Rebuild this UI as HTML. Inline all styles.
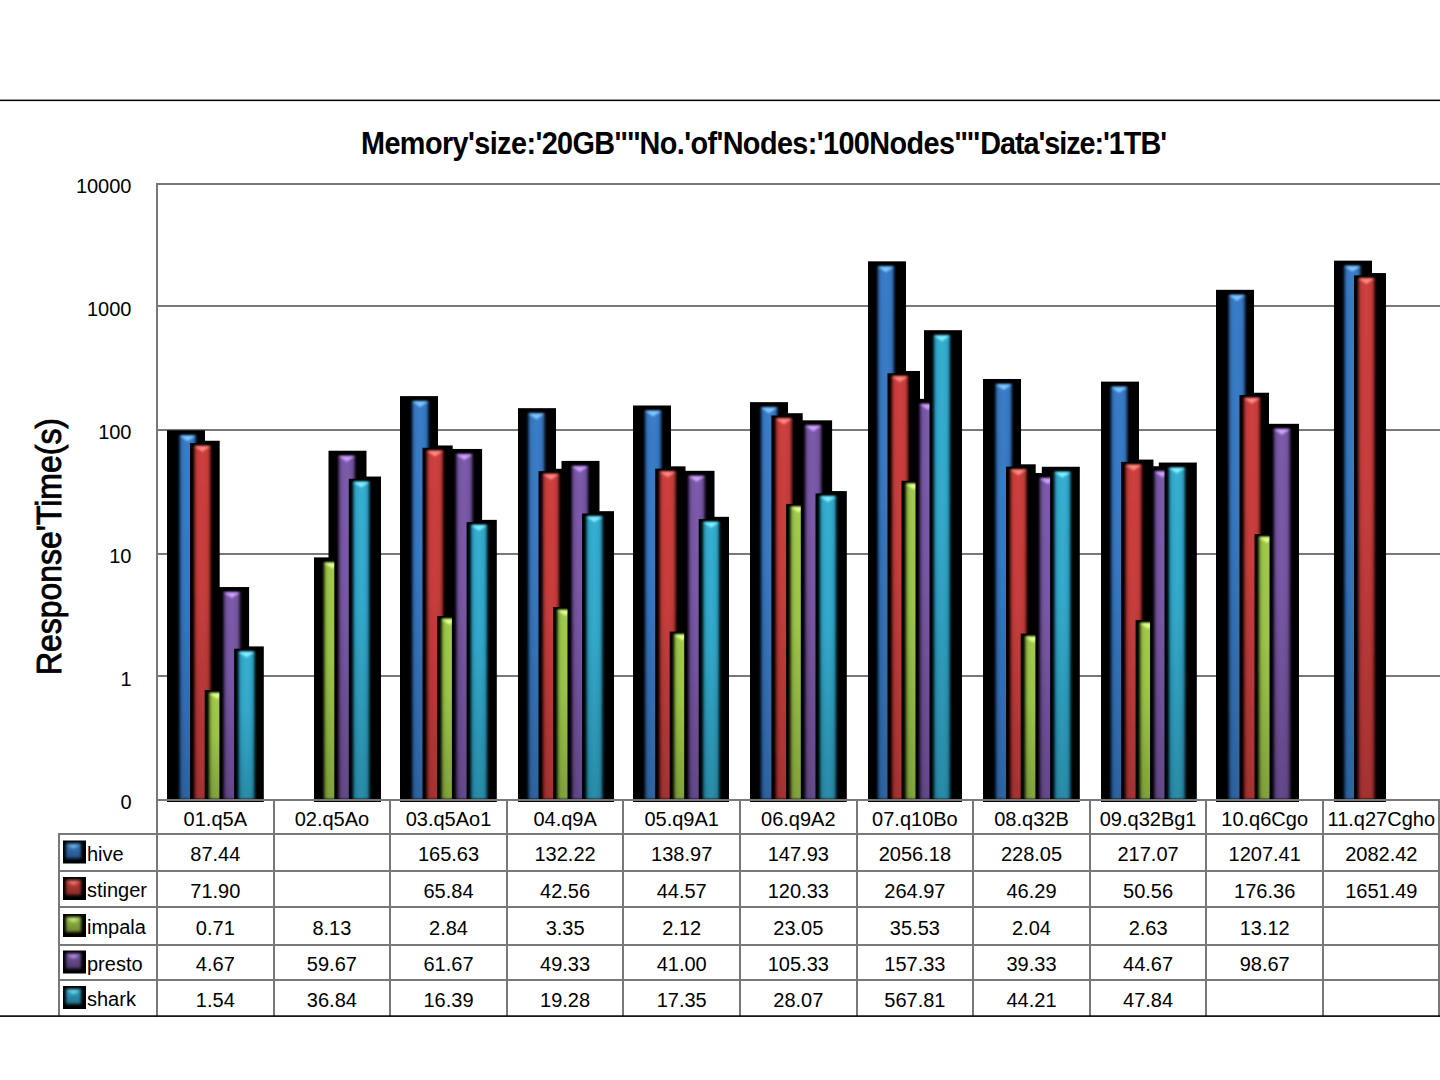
<!DOCTYPE html><html><head><meta charset="utf-8"><style>html,body{margin:0;padding:0;background:#fff;width:1440px;height:1080px;overflow:hidden;position:relative}</style></head><body><svg width="1440" height="1080" viewBox="0 0 1440 1080" style="position:absolute;left:0;top:0">
<defs>
<filter id="soft" x="-30%" y="-5%" width="160%" height="110%"><feGaussianBlur stdDeviation="1.1"/></filter>
<filter id="hl2" x="-30%" y="-50%" width="160%" height="200%"><feGaussianBlur stdDeviation="0.8"/></filter>
<filter id="mkb" x="-50%" y="-50%" width="200%" height="200%"><feGaussianBlur stdDeviation="1.5"/></filter>
<filter id="hl" x="-30%" y="-50%" width="160%" height="200%"><feGaussianBlur stdDeviation="1.2"/></filter>
<linearGradient id="g_hive" x1="0" x2="1" y1="0" y2="0"><stop offset="0" stop-color="#0a1a30"/><stop offset="0.18" stop-color="#3676c0"/><stop offset="0.5" stop-color="#3a7ec8"/><stop offset="0.82" stop-color="#3676c0"/><stop offset="1" stop-color="#0a1a30"/></linearGradient>
<linearGradient id="mk_hive" x1="0" x2="0" y1="0" y2="1"><stop offset="0" stop-color="#3676c0"/><stop offset="1" stop-color="#255286"/></linearGradient>
<radialGradient id="m_hive" cx="0.5" cy="0.35" r="0.6"><stop offset="0" stop-color="#80c8ff"/><stop offset="0.45" stop-color="#3676c0"/><stop offset="1" stop-color="#0a1a30"/></radialGradient>
<linearGradient id="g_stinger" x1="0" x2="1" y1="0" y2="0"><stop offset="0" stop-color="#300a08"/><stop offset="0.18" stop-color="#c43c3a"/><stop offset="0.5" stop-color="#d04040"/><stop offset="0.82" stop-color="#c43c3a"/><stop offset="1" stop-color="#300a08"/></linearGradient>
<linearGradient id="mk_stinger" x1="0" x2="0" y1="0" y2="1"><stop offset="0" stop-color="#c43c3a"/><stop offset="1" stop-color="#892a28"/></linearGradient>
<radialGradient id="m_stinger" cx="0.5" cy="0.35" r="0.6"><stop offset="0" stop-color="#ff8a80"/><stop offset="0.45" stop-color="#c43c3a"/><stop offset="1" stop-color="#300a08"/></radialGradient>
<linearGradient id="g_impala" x1="0" x2="1" y1="0" y2="0"><stop offset="0" stop-color="#1c2608"/><stop offset="0.18" stop-color="#98c046"/><stop offset="0.5" stop-color="#a2cc4c"/><stop offset="0.82" stop-color="#98c046"/><stop offset="1" stop-color="#1c2608"/></linearGradient>
<linearGradient id="mk_impala" x1="0" x2="0" y1="0" y2="1"><stop offset="0" stop-color="#98c046"/><stop offset="1" stop-color="#6a8631"/></linearGradient>
<radialGradient id="m_impala" cx="0.5" cy="0.35" r="0.6"><stop offset="0" stop-color="#e0ff90"/><stop offset="0.45" stop-color="#98c046"/><stop offset="1" stop-color="#1c2608"/></radialGradient>
<linearGradient id="g_presto" x1="0" x2="1" y1="0" y2="0"><stop offset="0" stop-color="#1a1028"/><stop offset="0.18" stop-color="#74549e"/><stop offset="0.5" stop-color="#7e5cae"/><stop offset="0.82" stop-color="#74549e"/><stop offset="1" stop-color="#1a1028"/></linearGradient>
<linearGradient id="mk_presto" x1="0" x2="0" y1="0" y2="1"><stop offset="0" stop-color="#74549e"/><stop offset="1" stop-color="#513a6e"/></linearGradient>
<radialGradient id="m_presto" cx="0.5" cy="0.35" r="0.6"><stop offset="0" stop-color="#d0a0ff"/><stop offset="0.45" stop-color="#74549e"/><stop offset="1" stop-color="#1a1028"/></radialGradient>
<linearGradient id="g_shark" x1="0" x2="1" y1="0" y2="0"><stop offset="0" stop-color="#06242c"/><stop offset="0.18" stop-color="#30a4c8"/><stop offset="0.5" stop-color="#36b0d2"/><stop offset="0.82" stop-color="#30a4c8"/><stop offset="1" stop-color="#06242c"/></linearGradient>
<linearGradient id="mk_shark" x1="0" x2="0" y1="0" y2="1"><stop offset="0" stop-color="#30a4c8"/><stop offset="1" stop-color="#21728c"/></linearGradient>
<radialGradient id="m_shark" cx="0.5" cy="0.35" r="0.6"><stop offset="0" stop-color="#80f0ff"/><stop offset="0.45" stop-color="#30a4c8"/><stop offset="1" stop-color="#06242c"/></radialGradient>
<linearGradient id="vshade" x1="0" x2="0" y1="0" y2="1"><stop offset="0" stop-color="#000" stop-opacity="0"/><stop offset="0.4" stop-color="#000" stop-opacity="0.03"/><stop offset="1" stop-color="#000" stop-opacity="0.2"/></linearGradient>
</defs>
<rect x="0" y="0" width="1440" height="1080" fill="#fff"/>
<rect x="0" y="99.6" width="1440" height="1.5" fill="#000"/>
<rect x="157" y="183" width="1283" height="2" fill="#787878"/>
<rect x="157" y="305" width="1283" height="2" fill="#787878"/>
<rect x="157" y="429" width="1283" height="2" fill="#787878"/>
<rect x="157" y="553" width="1283" height="2" fill="#787878"/>
<rect x="157" y="675" width="1283" height="2" fill="#787878"/>
<rect x="167.00" y="430.28" width="38.00" height="371.72" fill="#000"/>
<rect x="181.70" y="440.75" width="38.00" height="361.25" fill="#000"/>
<rect x="196.40" y="687.82" width="38.00" height="114.18" fill="#000"/>
<rect x="211.10" y="587.04" width="38.00" height="214.96" fill="#000"/>
<rect x="225.80" y="646.40" width="38.00" height="155.60" fill="#000"/>
<rect x="314.00" y="557.38" width="38.00" height="244.62" fill="#000"/>
<rect x="328.50" y="450.73" width="38.00" height="351.27" fill="#000"/>
<rect x="343.00" y="476.53" width="38.00" height="325.47" fill="#000"/>
<rect x="400.00" y="396.10" width="38.00" height="405.90" fill="#000"/>
<rect x="414.70" y="445.46" width="38.00" height="356.54" fill="#000"/>
<rect x="429.40" y="613.65" width="38.00" height="188.35" fill="#000"/>
<rect x="444.10" y="448.96" width="38.00" height="353.04" fill="#000"/>
<rect x="458.80" y="519.86" width="38.00" height="282.14" fill="#000"/>
<rect x="518.00" y="408.16" width="38.00" height="393.84" fill="#000"/>
<rect x="532.50" y="468.81" width="38.00" height="333.19" fill="#000"/>
<rect x="547.00" y="604.81" width="38.00" height="197.19" fill="#000"/>
<rect x="561.50" y="460.91" width="38.00" height="341.09" fill="#000"/>
<rect x="576.00" y="511.17" width="38.00" height="290.83" fill="#000"/>
<rect x="633.00" y="405.49" width="38.00" height="396.51" fill="#000"/>
<rect x="647.50" y="466.34" width="38.00" height="335.66" fill="#000"/>
<rect x="662.00" y="629.30" width="38.00" height="172.70" fill="#000"/>
<rect x="676.50" y="470.81" width="38.00" height="331.19" fill="#000"/>
<rect x="691.00" y="516.82" width="38.00" height="285.18" fill="#000"/>
<rect x="750.00" y="402.15" width="38.00" height="399.85" fill="#000"/>
<rect x="764.70" y="413.20" width="38.00" height="388.80" fill="#000"/>
<rect x="779.40" y="501.62" width="38.00" height="300.38" fill="#000"/>
<rect x="794.10" y="420.32" width="38.00" height="381.68" fill="#000"/>
<rect x="808.80" y="491.08" width="38.00" height="310.92" fill="#000"/>
<rect x="868.00" y="261.33" width="38.00" height="540.67" fill="#000"/>
<rect x="882.00" y="370.96" width="38.00" height="431.04" fill="#000"/>
<rect x="896.00" y="478.47" width="38.00" height="323.53" fill="#000"/>
<rect x="910.00" y="398.85" width="38.00" height="403.15" fill="#000"/>
<rect x="924.00" y="330.18" width="38.00" height="471.82" fill="#000"/>
<rect x="983.00" y="378.99" width="38.00" height="423.01" fill="#000"/>
<rect x="997.70" y="464.31" width="38.00" height="337.69" fill="#000"/>
<rect x="1012.40" y="631.35" width="38.00" height="170.65" fill="#000"/>
<rect x="1027.10" y="473.03" width="38.00" height="328.97" fill="#000"/>
<rect x="1041.80" y="466.77" width="38.00" height="335.23" fill="#000"/>
<rect x="1101.00" y="381.63" width="38.00" height="420.37" fill="#000"/>
<rect x="1115.45" y="459.59" width="38.00" height="342.41" fill="#000"/>
<rect x="1129.90" y="617.76" width="38.00" height="184.24" fill="#000"/>
<rect x="1144.35" y="466.22" width="38.00" height="335.78" fill="#000"/>
<rect x="1158.80" y="462.55" width="38.00" height="339.45" fill="#000"/>
<rect x="1216.00" y="289.82" width="38.00" height="512.18" fill="#000"/>
<rect x="1231.00" y="392.74" width="38.00" height="409.26" fill="#000"/>
<rect x="1246.00" y="531.77" width="38.00" height="270.23" fill="#000"/>
<rect x="1261.00" y="423.82" width="38.00" height="378.18" fill="#000"/>
<rect x="1334.00" y="260.65" width="38.00" height="541.35" fill="#000"/>
<rect x="1348.00" y="273.06" width="38.00" height="528.94" fill="#000"/>
<rect x="175.30" y="432.58" width="25.40" height="369.42" fill="#000"/>
<g filter="url(#soft)"><rect x="178.70" y="435.28" width="18.00" height="363.72" fill="url(#g_hive)"/><rect x="178.70" y="435.28" width="18.00" height="363.72" fill="url(#vshade)"/></g>
<polygon points="179.70,435.78 195.70,435.78 187.70,441.28" fill="#80c8ff" opacity="1" filter="url(#hl2)"/>
<rect x="190.00" y="443.05" width="25.40" height="358.95" fill="#000"/>
<g filter="url(#soft)"><rect x="193.40" y="445.75" width="18.00" height="353.25" fill="url(#g_stinger)"/><rect x="193.40" y="445.75" width="18.00" height="353.25" fill="url(#vshade)"/></g>
<polygon points="194.40,446.25 210.40,446.25 202.40,451.75" fill="#ff8a80" opacity="1" filter="url(#hl2)"/>
<rect x="204.70" y="690.12" width="25.40" height="111.88" fill="#000"/>
<g filter="url(#soft)"><rect x="208.10" y="692.82" width="18.00" height="106.18" fill="url(#g_impala)"/><rect x="208.10" y="692.82" width="18.00" height="106.18" fill="url(#vshade)"/></g>
<polygon points="209.10,693.32 225.10,693.32 217.10,698.82" fill="#e0ff90" opacity="1" filter="url(#hl2)"/>
<rect x="219.40" y="589.34" width="25.40" height="212.66" fill="#000"/>
<g filter="url(#soft)"><rect x="222.80" y="592.04" width="18.00" height="206.96" fill="url(#g_presto)"/><rect x="222.80" y="592.04" width="18.00" height="206.96" fill="url(#vshade)"/></g>
<polygon points="223.80,592.54 239.80,592.54 231.80,598.04" fill="#d0a0ff" opacity="1" filter="url(#hl2)"/>
<rect x="234.10" y="648.70" width="25.40" height="153.30" fill="#000"/>
<g filter="url(#soft)"><rect x="237.50" y="651.40" width="18.00" height="147.60" fill="url(#g_shark)"/><rect x="237.50" y="651.40" width="18.00" height="147.60" fill="url(#vshade)"/></g>
<polygon points="238.50,651.90 254.50,651.90 246.50,657.40" fill="#80f0ff" opacity="1" filter="url(#hl2)"/>
<rect x="319.80" y="559.68" width="25.40" height="242.32" fill="#000"/>
<g filter="url(#soft)"><rect x="323.20" y="562.38" width="18.00" height="236.62" fill="url(#g_impala)"/><rect x="323.20" y="562.38" width="18.00" height="236.62" fill="url(#vshade)"/></g>
<polygon points="324.20,562.88 340.20,562.88 332.20,568.38" fill="#e0ff90" opacity="1" filter="url(#hl2)"/>
<rect x="334.30" y="453.03" width="25.40" height="348.97" fill="#000"/>
<g filter="url(#soft)"><rect x="337.70" y="455.73" width="18.00" height="343.27" fill="url(#g_presto)"/><rect x="337.70" y="455.73" width="18.00" height="343.27" fill="url(#vshade)"/></g>
<polygon points="338.70,456.23 354.70,456.23 346.70,461.73" fill="#d0a0ff" opacity="1" filter="url(#hl2)"/>
<rect x="348.80" y="478.83" width="25.40" height="323.17" fill="#000"/>
<g filter="url(#soft)"><rect x="352.20" y="481.53" width="18.00" height="317.47" fill="url(#g_shark)"/><rect x="352.20" y="481.53" width="18.00" height="317.47" fill="url(#vshade)"/></g>
<polygon points="353.20,482.03 369.20,482.03 361.20,487.53" fill="#80f0ff" opacity="1" filter="url(#hl2)"/>
<rect x="407.80" y="398.40" width="25.40" height="403.60" fill="#000"/>
<g filter="url(#soft)"><rect x="411.20" y="401.10" width="18.00" height="397.90" fill="url(#g_hive)"/><rect x="411.20" y="401.10" width="18.00" height="397.90" fill="url(#vshade)"/></g>
<polygon points="412.20,401.60 428.20,401.60 420.20,407.10" fill="#80c8ff" opacity="1" filter="url(#hl2)"/>
<rect x="422.50" y="447.76" width="25.40" height="354.24" fill="#000"/>
<g filter="url(#soft)"><rect x="425.90" y="450.46" width="18.00" height="348.54" fill="url(#g_stinger)"/><rect x="425.90" y="450.46" width="18.00" height="348.54" fill="url(#vshade)"/></g>
<polygon points="426.90,450.96 442.90,450.96 434.90,456.46" fill="#ff8a80" opacity="1" filter="url(#hl2)"/>
<rect x="437.20" y="615.95" width="25.40" height="186.05" fill="#000"/>
<g filter="url(#soft)"><rect x="440.60" y="618.65" width="18.00" height="180.35" fill="url(#g_impala)"/><rect x="440.60" y="618.65" width="18.00" height="180.35" fill="url(#vshade)"/></g>
<polygon points="441.60,619.15 457.60,619.15 449.60,624.65" fill="#e0ff90" opacity="1" filter="url(#hl2)"/>
<rect x="451.90" y="451.26" width="25.40" height="350.74" fill="#000"/>
<g filter="url(#soft)"><rect x="455.30" y="453.96" width="18.00" height="345.04" fill="url(#g_presto)"/><rect x="455.30" y="453.96" width="18.00" height="345.04" fill="url(#vshade)"/></g>
<polygon points="456.30,454.46 472.30,454.46 464.30,459.96" fill="#d0a0ff" opacity="1" filter="url(#hl2)"/>
<rect x="466.60" y="522.16" width="25.40" height="279.84" fill="#000"/>
<g filter="url(#soft)"><rect x="470.00" y="524.86" width="18.00" height="274.14" fill="url(#g_shark)"/><rect x="470.00" y="524.86" width="18.00" height="274.14" fill="url(#vshade)"/></g>
<polygon points="471.00,525.36 487.00,525.36 479.00,530.86" fill="#80f0ff" opacity="1" filter="url(#hl2)"/>
<rect x="524.00" y="410.46" width="25.40" height="391.54" fill="#000"/>
<g filter="url(#soft)"><rect x="527.40" y="413.16" width="18.00" height="385.84" fill="url(#g_hive)"/><rect x="527.40" y="413.16" width="18.00" height="385.84" fill="url(#vshade)"/></g>
<polygon points="528.40,413.66 544.40,413.66 536.40,419.16" fill="#80c8ff" opacity="1" filter="url(#hl2)"/>
<rect x="538.50" y="471.11" width="25.40" height="330.89" fill="#000"/>
<g filter="url(#soft)"><rect x="541.90" y="473.81" width="18.00" height="325.19" fill="url(#g_stinger)"/><rect x="541.90" y="473.81" width="18.00" height="325.19" fill="url(#vshade)"/></g>
<polygon points="542.90,474.31 558.90,474.31 550.90,479.81" fill="#ff8a80" opacity="1" filter="url(#hl2)"/>
<rect x="553.00" y="607.11" width="25.40" height="194.89" fill="#000"/>
<g filter="url(#soft)"><rect x="556.40" y="609.81" width="18.00" height="189.19" fill="url(#g_impala)"/><rect x="556.40" y="609.81" width="18.00" height="189.19" fill="url(#vshade)"/></g>
<polygon points="557.40,610.31 573.40,610.31 565.40,615.81" fill="#e0ff90" opacity="1" filter="url(#hl2)"/>
<rect x="567.50" y="463.21" width="25.40" height="338.79" fill="#000"/>
<g filter="url(#soft)"><rect x="570.90" y="465.91" width="18.00" height="333.09" fill="url(#g_presto)"/><rect x="570.90" y="465.91" width="18.00" height="333.09" fill="url(#vshade)"/></g>
<polygon points="571.90,466.41 587.90,466.41 579.90,471.91" fill="#d0a0ff" opacity="1" filter="url(#hl2)"/>
<rect x="582.00" y="513.47" width="25.40" height="288.53" fill="#000"/>
<g filter="url(#soft)"><rect x="585.40" y="516.17" width="18.00" height="282.83" fill="url(#g_shark)"/><rect x="585.40" y="516.17" width="18.00" height="282.83" fill="url(#vshade)"/></g>
<polygon points="586.40,516.67 602.40,516.67 594.40,522.17" fill="#80f0ff" opacity="1" filter="url(#hl2)"/>
<rect x="640.70" y="407.79" width="25.40" height="394.21" fill="#000"/>
<g filter="url(#soft)"><rect x="644.10" y="410.49" width="18.00" height="388.51" fill="url(#g_hive)"/><rect x="644.10" y="410.49" width="18.00" height="388.51" fill="url(#vshade)"/></g>
<polygon points="645.10,410.99 661.10,410.99 653.10,416.49" fill="#80c8ff" opacity="1" filter="url(#hl2)"/>
<rect x="655.20" y="468.64" width="25.40" height="333.36" fill="#000"/>
<g filter="url(#soft)"><rect x="658.60" y="471.34" width="18.00" height="327.66" fill="url(#g_stinger)"/><rect x="658.60" y="471.34" width="18.00" height="327.66" fill="url(#vshade)"/></g>
<polygon points="659.60,471.84 675.60,471.84 667.60,477.34" fill="#ff8a80" opacity="1" filter="url(#hl2)"/>
<rect x="669.70" y="631.60" width="25.40" height="170.40" fill="#000"/>
<g filter="url(#soft)"><rect x="673.10" y="634.30" width="18.00" height="164.70" fill="url(#g_impala)"/><rect x="673.10" y="634.30" width="18.00" height="164.70" fill="url(#vshade)"/></g>
<polygon points="674.10,634.80 690.10,634.80 682.10,640.30" fill="#e0ff90" opacity="1" filter="url(#hl2)"/>
<rect x="684.20" y="473.11" width="25.40" height="328.89" fill="#000"/>
<g filter="url(#soft)"><rect x="687.60" y="475.81" width="18.00" height="323.19" fill="url(#g_presto)"/><rect x="687.60" y="475.81" width="18.00" height="323.19" fill="url(#vshade)"/></g>
<polygon points="688.60,476.31 704.60,476.31 696.60,481.81" fill="#d0a0ff" opacity="1" filter="url(#hl2)"/>
<rect x="698.70" y="519.12" width="25.40" height="282.88" fill="#000"/>
<g filter="url(#soft)"><rect x="702.10" y="521.82" width="18.00" height="277.18" fill="url(#g_shark)"/><rect x="702.10" y="521.82" width="18.00" height="277.18" fill="url(#vshade)"/></g>
<polygon points="703.10,522.32 719.10,522.32 711.10,527.82" fill="#80f0ff" opacity="1" filter="url(#hl2)"/>
<rect x="756.70" y="404.45" width="25.40" height="397.55" fill="#000"/>
<g filter="url(#soft)"><rect x="760.10" y="407.15" width="18.00" height="391.85" fill="url(#g_hive)"/><rect x="760.10" y="407.15" width="18.00" height="391.85" fill="url(#vshade)"/></g>
<polygon points="761.10,407.65 777.10,407.65 769.10,413.15" fill="#80c8ff" opacity="1" filter="url(#hl2)"/>
<rect x="771.40" y="415.50" width="25.40" height="386.50" fill="#000"/>
<g filter="url(#soft)"><rect x="774.80" y="418.20" width="18.00" height="380.80" fill="url(#g_stinger)"/><rect x="774.80" y="418.20" width="18.00" height="380.80" fill="url(#vshade)"/></g>
<polygon points="775.80,418.70 791.80,418.70 783.80,424.20" fill="#ff8a80" opacity="1" filter="url(#hl2)"/>
<rect x="786.10" y="503.92" width="25.40" height="298.08" fill="#000"/>
<g filter="url(#soft)"><rect x="789.50" y="506.62" width="18.00" height="292.38" fill="url(#g_impala)"/><rect x="789.50" y="506.62" width="18.00" height="292.38" fill="url(#vshade)"/></g>
<polygon points="790.50,507.12 806.50,507.12 798.50,512.62" fill="#e0ff90" opacity="1" filter="url(#hl2)"/>
<rect x="800.80" y="422.62" width="25.40" height="379.38" fill="#000"/>
<g filter="url(#soft)"><rect x="804.20" y="425.32" width="18.00" height="373.68" fill="url(#g_presto)"/><rect x="804.20" y="425.32" width="18.00" height="373.68" fill="url(#vshade)"/></g>
<polygon points="805.20,425.82 821.20,425.82 813.20,431.32" fill="#d0a0ff" opacity="1" filter="url(#hl2)"/>
<rect x="815.50" y="493.38" width="25.40" height="308.62" fill="#000"/>
<g filter="url(#soft)"><rect x="818.90" y="496.08" width="18.00" height="302.92" fill="url(#g_shark)"/><rect x="818.90" y="496.08" width="18.00" height="302.92" fill="url(#vshade)"/></g>
<polygon points="819.90,496.58 835.90,496.58 827.90,502.08" fill="#80f0ff" opacity="1" filter="url(#hl2)"/>
<rect x="873.50" y="263.63" width="25.40" height="538.37" fill="#000"/>
<g filter="url(#soft)"><rect x="876.90" y="266.33" width="18.00" height="532.67" fill="url(#g_hive)"/><rect x="876.90" y="266.33" width="18.00" height="532.67" fill="url(#vshade)"/></g>
<polygon points="877.90,266.83 893.90,266.83 885.90,272.33" fill="#80c8ff" opacity="1" filter="url(#hl2)"/>
<rect x="887.50" y="373.26" width="25.40" height="428.74" fill="#000"/>
<g filter="url(#soft)"><rect x="890.90" y="375.96" width="18.00" height="423.04" fill="url(#g_stinger)"/><rect x="890.90" y="375.96" width="18.00" height="423.04" fill="url(#vshade)"/></g>
<polygon points="891.90,376.46 907.90,376.46 899.90,381.96" fill="#ff8a80" opacity="1" filter="url(#hl2)"/>
<rect x="901.50" y="480.77" width="25.40" height="321.23" fill="#000"/>
<g filter="url(#soft)"><rect x="904.90" y="483.47" width="18.00" height="315.53" fill="url(#g_impala)"/><rect x="904.90" y="483.47" width="18.00" height="315.53" fill="url(#vshade)"/></g>
<polygon points="905.90,483.97 921.90,483.97 913.90,489.47" fill="#e0ff90" opacity="1" filter="url(#hl2)"/>
<rect x="915.50" y="401.15" width="25.40" height="400.85" fill="#000"/>
<g filter="url(#soft)"><rect x="918.90" y="403.85" width="18.00" height="395.15" fill="url(#g_presto)"/><rect x="918.90" y="403.85" width="18.00" height="395.15" fill="url(#vshade)"/></g>
<polygon points="919.90,404.35 935.90,404.35 927.90,409.85" fill="#d0a0ff" opacity="1" filter="url(#hl2)"/>
<rect x="929.50" y="332.48" width="25.40" height="469.52" fill="#000"/>
<g filter="url(#soft)"><rect x="932.90" y="335.18" width="18.00" height="463.82" fill="url(#g_shark)"/><rect x="932.90" y="335.18" width="18.00" height="463.82" fill="url(#vshade)"/></g>
<polygon points="933.90,335.68 949.90,335.68 941.90,341.18" fill="#80f0ff" opacity="1" filter="url(#hl2)"/>
<rect x="991.30" y="381.29" width="25.40" height="420.71" fill="#000"/>
<g filter="url(#soft)"><rect x="994.70" y="383.99" width="18.00" height="415.01" fill="url(#g_hive)"/><rect x="994.70" y="383.99" width="18.00" height="415.01" fill="url(#vshade)"/></g>
<polygon points="995.70,384.49 1011.70,384.49 1003.70,389.99" fill="#80c8ff" opacity="1" filter="url(#hl2)"/>
<rect x="1006.00" y="466.61" width="25.40" height="335.39" fill="#000"/>
<g filter="url(#soft)"><rect x="1009.40" y="469.31" width="18.00" height="329.69" fill="url(#g_stinger)"/><rect x="1009.40" y="469.31" width="18.00" height="329.69" fill="url(#vshade)"/></g>
<polygon points="1010.40,469.81 1026.40,469.81 1018.40,475.31" fill="#ff8a80" opacity="1" filter="url(#hl2)"/>
<rect x="1020.70" y="633.65" width="25.40" height="168.35" fill="#000"/>
<g filter="url(#soft)"><rect x="1024.10" y="636.35" width="18.00" height="162.65" fill="url(#g_impala)"/><rect x="1024.10" y="636.35" width="18.00" height="162.65" fill="url(#vshade)"/></g>
<polygon points="1025.10,636.85 1041.10,636.85 1033.10,642.35" fill="#e0ff90" opacity="1" filter="url(#hl2)"/>
<rect x="1035.40" y="475.33" width="25.40" height="326.67" fill="#000"/>
<g filter="url(#soft)"><rect x="1038.80" y="478.03" width="18.00" height="320.97" fill="url(#g_presto)"/><rect x="1038.80" y="478.03" width="18.00" height="320.97" fill="url(#vshade)"/></g>
<polygon points="1039.80,478.53 1055.80,478.53 1047.80,484.03" fill="#d0a0ff" opacity="1" filter="url(#hl2)"/>
<rect x="1050.10" y="469.07" width="25.40" height="332.93" fill="#000"/>
<g filter="url(#soft)"><rect x="1053.50" y="471.77" width="18.00" height="327.23" fill="url(#g_shark)"/><rect x="1053.50" y="471.77" width="18.00" height="327.23" fill="url(#vshade)"/></g>
<polygon points="1054.50,472.27 1070.50,472.27 1062.50,477.77" fill="#80f0ff" opacity="1" filter="url(#hl2)"/>
<rect x="1106.70" y="383.93" width="25.40" height="418.07" fill="#000"/>
<g filter="url(#soft)"><rect x="1110.10" y="386.63" width="18.00" height="412.37" fill="url(#g_hive)"/><rect x="1110.10" y="386.63" width="18.00" height="412.37" fill="url(#vshade)"/></g>
<polygon points="1111.10,387.13 1127.10,387.13 1119.10,392.63" fill="#80c8ff" opacity="1" filter="url(#hl2)"/>
<rect x="1121.15" y="461.89" width="25.40" height="340.11" fill="#000"/>
<g filter="url(#soft)"><rect x="1124.55" y="464.59" width="18.00" height="334.41" fill="url(#g_stinger)"/><rect x="1124.55" y="464.59" width="18.00" height="334.41" fill="url(#vshade)"/></g>
<polygon points="1125.55,465.09 1141.55,465.09 1133.55,470.59" fill="#ff8a80" opacity="1" filter="url(#hl2)"/>
<rect x="1135.60" y="620.06" width="25.40" height="181.94" fill="#000"/>
<g filter="url(#soft)"><rect x="1139.00" y="622.76" width="18.00" height="176.24" fill="url(#g_impala)"/><rect x="1139.00" y="622.76" width="18.00" height="176.24" fill="url(#vshade)"/></g>
<polygon points="1140.00,623.26 1156.00,623.26 1148.00,628.76" fill="#e0ff90" opacity="1" filter="url(#hl2)"/>
<rect x="1150.05" y="468.52" width="25.40" height="333.48" fill="#000"/>
<g filter="url(#soft)"><rect x="1153.45" y="471.22" width="18.00" height="327.78" fill="url(#g_presto)"/><rect x="1153.45" y="471.22" width="18.00" height="327.78" fill="url(#vshade)"/></g>
<polygon points="1154.45,471.72 1170.45,471.72 1162.45,477.22" fill="#d0a0ff" opacity="1" filter="url(#hl2)"/>
<rect x="1164.50" y="464.85" width="25.40" height="337.15" fill="#000"/>
<g filter="url(#soft)"><rect x="1167.90" y="467.55" width="18.00" height="331.45" fill="url(#g_shark)"/><rect x="1167.90" y="467.55" width="18.00" height="331.45" fill="url(#vshade)"/></g>
<polygon points="1168.90,468.05 1184.90,468.05 1176.90,473.55" fill="#80f0ff" opacity="1" filter="url(#hl2)"/>
<rect x="1224.50" y="292.12" width="25.40" height="509.88" fill="#000"/>
<g filter="url(#soft)"><rect x="1227.90" y="294.82" width="18.00" height="504.18" fill="url(#g_hive)"/><rect x="1227.90" y="294.82" width="18.00" height="504.18" fill="url(#vshade)"/></g>
<polygon points="1228.90,295.32 1244.90,295.32 1236.90,300.82" fill="#80c8ff" opacity="1" filter="url(#hl2)"/>
<rect x="1239.50" y="395.04" width="25.40" height="406.96" fill="#000"/>
<g filter="url(#soft)"><rect x="1242.90" y="397.74" width="18.00" height="401.26" fill="url(#g_stinger)"/><rect x="1242.90" y="397.74" width="18.00" height="401.26" fill="url(#vshade)"/></g>
<polygon points="1243.90,398.24 1259.90,398.24 1251.90,403.74" fill="#ff8a80" opacity="1" filter="url(#hl2)"/>
<rect x="1254.50" y="534.07" width="25.40" height="267.93" fill="#000"/>
<g filter="url(#soft)"><rect x="1257.90" y="536.77" width="18.00" height="262.23" fill="url(#g_impala)"/><rect x="1257.90" y="536.77" width="18.00" height="262.23" fill="url(#vshade)"/></g>
<polygon points="1258.90,537.27 1274.90,537.27 1266.90,542.77" fill="#e0ff90" opacity="1" filter="url(#hl2)"/>
<rect x="1269.50" y="426.12" width="25.40" height="375.88" fill="#000"/>
<g filter="url(#soft)"><rect x="1272.90" y="428.82" width="18.00" height="370.18" fill="url(#g_presto)"/><rect x="1272.90" y="428.82" width="18.00" height="370.18" fill="url(#vshade)"/></g>
<polygon points="1273.90,429.32 1289.90,429.32 1281.90,434.82" fill="#d0a0ff" opacity="1" filter="url(#hl2)"/>
<rect x="1340.00" y="262.95" width="25.40" height="539.05" fill="#000"/>
<g filter="url(#soft)"><rect x="1343.40" y="265.65" width="18.00" height="533.35" fill="url(#g_hive)"/><rect x="1343.40" y="265.65" width="18.00" height="533.35" fill="url(#vshade)"/></g>
<polygon points="1344.40,266.15 1360.40,266.15 1352.40,271.65" fill="#80c8ff" opacity="1" filter="url(#hl2)"/>
<rect x="1354.00" y="275.36" width="25.40" height="526.64" fill="#000"/>
<g filter="url(#soft)"><rect x="1357.40" y="278.06" width="18.00" height="520.94" fill="url(#g_stinger)"/><rect x="1357.40" y="278.06" width="18.00" height="520.94" fill="url(#vshade)"/></g>
<polygon points="1358.40,278.56 1374.40,278.56 1366.40,284.06" fill="#ff8a80" opacity="1" filter="url(#hl2)"/>
<rect x="157" y="799" width="1283" height="2" fill="#787878"/>
<rect x="156" y="183" width="2" height="834" fill="#787878"/>
<rect x="273" y="800" width="2" height="216" fill="#787878"/>
<rect x="389" y="800" width="2" height="216" fill="#787878"/>
<rect x="506" y="800" width="2" height="216" fill="#787878"/>
<rect x="622" y="800" width="2" height="216" fill="#787878"/>
<rect x="739" y="800" width="2" height="216" fill="#787878"/>
<rect x="856" y="800" width="2" height="216" fill="#787878"/>
<rect x="972" y="800" width="2" height="216" fill="#787878"/>
<rect x="1089" y="800" width="2" height="216" fill="#787878"/>
<rect x="1205" y="800" width="2" height="216" fill="#787878"/>
<rect x="1322" y="800" width="2" height="216" fill="#787878"/>
<rect x="1438" y="800" width="2" height="216" fill="#787878"/>
<rect x="58" y="833" width="2" height="183" fill="#787878"/>
<rect x="58" y="833.00" width="1382" height="2" fill="#787878"/>
<rect x="58" y="870.00" width="1382" height="2" fill="#787878"/>
<rect x="58" y="906.00" width="1382" height="2" fill="#787878"/>
<rect x="58" y="944.00" width="1382" height="2" fill="#787878"/>
<rect x="58" y="979.00" width="1382" height="2" fill="#787878"/>
<rect x="0" y="1015.3" width="1440" height="1.6" fill="#000"/>
<text x="131.5" y="193.00" text-anchor="end" font-family="'Liberation Sans', sans-serif" font-size="20" fill="#000">10000</text>
<text x="131.5" y="316.20" text-anchor="end" font-family="'Liberation Sans', sans-serif" font-size="20" fill="#000">1000</text>
<text x="131.5" y="439.40" text-anchor="end" font-family="'Liberation Sans', sans-serif" font-size="20" fill="#000">100</text>
<text x="131.5" y="562.60" text-anchor="end" font-family="'Liberation Sans', sans-serif" font-size="20" fill="#000">10</text>
<text x="131.5" y="685.80" text-anchor="end" font-family="'Liberation Sans', sans-serif" font-size="20" fill="#000">1</text>
<text x="131.5" y="809.00" text-anchor="end" font-family="'Liberation Sans', sans-serif" font-size="20" fill="#000">0</text>
<text x="215.30" y="825.8" text-anchor="middle" font-family="'Liberation Sans', sans-serif" font-size="20" fill="#000">01.q5A</text>
<text x="331.90" y="825.8" text-anchor="middle" font-family="'Liberation Sans', sans-serif" font-size="20" fill="#000">02.q5Ao</text>
<text x="448.50" y="825.8" text-anchor="middle" font-family="'Liberation Sans', sans-serif" font-size="20" fill="#000">03.q5Ao1</text>
<text x="565.10" y="825.8" text-anchor="middle" font-family="'Liberation Sans', sans-serif" font-size="20" fill="#000">04.q9A</text>
<text x="681.70" y="825.8" text-anchor="middle" font-family="'Liberation Sans', sans-serif" font-size="20" fill="#000">05.q9A1</text>
<text x="798.30" y="825.8" text-anchor="middle" font-family="'Liberation Sans', sans-serif" font-size="20" fill="#000">06.q9A2</text>
<text x="914.90" y="825.8" text-anchor="middle" font-family="'Liberation Sans', sans-serif" font-size="20" fill="#000">07.q10Bo</text>
<text x="1031.50" y="825.8" text-anchor="middle" font-family="'Liberation Sans', sans-serif" font-size="20" fill="#000">08.q32B</text>
<text x="1148.10" y="825.8" text-anchor="middle" font-family="'Liberation Sans', sans-serif" font-size="20" fill="#000">09.q32Bg1</text>
<text x="1264.70" y="825.8" text-anchor="middle" font-family="'Liberation Sans', sans-serif" font-size="20" fill="#000">10.q6Cgo</text>
<text x="1381.30" y="825.8" text-anchor="middle" font-family="'Liberation Sans', sans-serif" font-size="20" fill="#000">11.q27Cgho</text>
<rect x="63" y="840.50" width="23" height="23" fill="#000"/>
<g filter="url(#mkb)"><rect x="66" y="843.50" width="15" height="15" fill="url(#mk_hive)"/><polygon points="67,844.00 80,844.00 73.5,848.50" fill="#80c8ff" opacity="0.8"/></g>
<text x="87" y="860.80" font-family="'Liberation Sans', sans-serif" font-size="20" fill="#000">hive</text>
<text x="215.30" y="861.10" text-anchor="middle" font-family="'Liberation Sans', sans-serif" font-size="20" fill="#000">87.44</text>
<text x="448.50" y="861.10" text-anchor="middle" font-family="'Liberation Sans', sans-serif" font-size="20" fill="#000">165.63</text>
<text x="565.10" y="861.10" text-anchor="middle" font-family="'Liberation Sans', sans-serif" font-size="20" fill="#000">132.22</text>
<text x="681.70" y="861.10" text-anchor="middle" font-family="'Liberation Sans', sans-serif" font-size="20" fill="#000">138.97</text>
<text x="798.30" y="861.10" text-anchor="middle" font-family="'Liberation Sans', sans-serif" font-size="20" fill="#000">147.93</text>
<text x="914.90" y="861.10" text-anchor="middle" font-family="'Liberation Sans', sans-serif" font-size="20" fill="#000">2056.18</text>
<text x="1031.50" y="861.10" text-anchor="middle" font-family="'Liberation Sans', sans-serif" font-size="20" fill="#000">228.05</text>
<text x="1148.10" y="861.10" text-anchor="middle" font-family="'Liberation Sans', sans-serif" font-size="20" fill="#000">217.07</text>
<text x="1264.70" y="861.10" text-anchor="middle" font-family="'Liberation Sans', sans-serif" font-size="20" fill="#000">1207.41</text>
<text x="1381.30" y="861.10" text-anchor="middle" font-family="'Liberation Sans', sans-serif" font-size="20" fill="#000">2082.42</text>
<rect x="63" y="877.00" width="23" height="23" fill="#000"/>
<g filter="url(#mkb)"><rect x="66" y="880.00" width="15" height="15" fill="url(#mk_stinger)"/><polygon points="67,880.50 80,880.50 73.5,885.00" fill="#ff8a80" opacity="0.8"/></g>
<text x="87" y="897.30" font-family="'Liberation Sans', sans-serif" font-size="20" fill="#000">stinger</text>
<text x="215.30" y="897.60" text-anchor="middle" font-family="'Liberation Sans', sans-serif" font-size="20" fill="#000">71.90</text>
<text x="448.50" y="897.60" text-anchor="middle" font-family="'Liberation Sans', sans-serif" font-size="20" fill="#000">65.84</text>
<text x="565.10" y="897.60" text-anchor="middle" font-family="'Liberation Sans', sans-serif" font-size="20" fill="#000">42.56</text>
<text x="681.70" y="897.60" text-anchor="middle" font-family="'Liberation Sans', sans-serif" font-size="20" fill="#000">44.57</text>
<text x="798.30" y="897.60" text-anchor="middle" font-family="'Liberation Sans', sans-serif" font-size="20" fill="#000">120.33</text>
<text x="914.90" y="897.60" text-anchor="middle" font-family="'Liberation Sans', sans-serif" font-size="20" fill="#000">264.97</text>
<text x="1031.50" y="897.60" text-anchor="middle" font-family="'Liberation Sans', sans-serif" font-size="20" fill="#000">46.29</text>
<text x="1148.10" y="897.60" text-anchor="middle" font-family="'Liberation Sans', sans-serif" font-size="20" fill="#000">50.56</text>
<text x="1264.70" y="897.60" text-anchor="middle" font-family="'Liberation Sans', sans-serif" font-size="20" fill="#000">176.36</text>
<text x="1381.30" y="897.60" text-anchor="middle" font-family="'Liberation Sans', sans-serif" font-size="20" fill="#000">1651.49</text>
<rect x="63" y="914.00" width="23" height="23" fill="#000"/>
<g filter="url(#mkb)"><rect x="66" y="917.00" width="15" height="15" fill="url(#mk_impala)"/><polygon points="67,917.50 80,917.50 73.5,922.00" fill="#e0ff90" opacity="0.8"/></g>
<text x="87" y="934.30" font-family="'Liberation Sans', sans-serif" font-size="20" fill="#000">impala</text>
<text x="215.30" y="934.60" text-anchor="middle" font-family="'Liberation Sans', sans-serif" font-size="20" fill="#000">0.71</text>
<text x="331.90" y="934.60" text-anchor="middle" font-family="'Liberation Sans', sans-serif" font-size="20" fill="#000">8.13</text>
<text x="448.50" y="934.60" text-anchor="middle" font-family="'Liberation Sans', sans-serif" font-size="20" fill="#000">2.84</text>
<text x="565.10" y="934.60" text-anchor="middle" font-family="'Liberation Sans', sans-serif" font-size="20" fill="#000">3.35</text>
<text x="681.70" y="934.60" text-anchor="middle" font-family="'Liberation Sans', sans-serif" font-size="20" fill="#000">2.12</text>
<text x="798.30" y="934.60" text-anchor="middle" font-family="'Liberation Sans', sans-serif" font-size="20" fill="#000">23.05</text>
<text x="914.90" y="934.60" text-anchor="middle" font-family="'Liberation Sans', sans-serif" font-size="20" fill="#000">35.53</text>
<text x="1031.50" y="934.60" text-anchor="middle" font-family="'Liberation Sans', sans-serif" font-size="20" fill="#000">2.04</text>
<text x="1148.10" y="934.60" text-anchor="middle" font-family="'Liberation Sans', sans-serif" font-size="20" fill="#000">2.63</text>
<text x="1264.70" y="934.60" text-anchor="middle" font-family="'Liberation Sans', sans-serif" font-size="20" fill="#000">13.12</text>
<rect x="63" y="950.50" width="23" height="23" fill="#000"/>
<g filter="url(#mkb)"><rect x="66" y="953.50" width="15" height="15" fill="url(#mk_presto)"/><polygon points="67,954.00 80,954.00 73.5,958.50" fill="#d0a0ff" opacity="0.8"/></g>
<text x="87" y="970.80" font-family="'Liberation Sans', sans-serif" font-size="20" fill="#000">presto</text>
<text x="215.30" y="971.10" text-anchor="middle" font-family="'Liberation Sans', sans-serif" font-size="20" fill="#000">4.67</text>
<text x="331.90" y="971.10" text-anchor="middle" font-family="'Liberation Sans', sans-serif" font-size="20" fill="#000">59.67</text>
<text x="448.50" y="971.10" text-anchor="middle" font-family="'Liberation Sans', sans-serif" font-size="20" fill="#000">61.67</text>
<text x="565.10" y="971.10" text-anchor="middle" font-family="'Liberation Sans', sans-serif" font-size="20" fill="#000">49.33</text>
<text x="681.70" y="971.10" text-anchor="middle" font-family="'Liberation Sans', sans-serif" font-size="20" fill="#000">41.00</text>
<text x="798.30" y="971.10" text-anchor="middle" font-family="'Liberation Sans', sans-serif" font-size="20" fill="#000">105.33</text>
<text x="914.90" y="971.10" text-anchor="middle" font-family="'Liberation Sans', sans-serif" font-size="20" fill="#000">157.33</text>
<text x="1031.50" y="971.10" text-anchor="middle" font-family="'Liberation Sans', sans-serif" font-size="20" fill="#000">39.33</text>
<text x="1148.10" y="971.10" text-anchor="middle" font-family="'Liberation Sans', sans-serif" font-size="20" fill="#000">44.67</text>
<text x="1264.70" y="971.10" text-anchor="middle" font-family="'Liberation Sans', sans-serif" font-size="20" fill="#000">98.67</text>
<rect x="63" y="986.00" width="23" height="23" fill="#000"/>
<g filter="url(#mkb)"><rect x="66" y="989.00" width="15" height="15" fill="url(#mk_shark)"/><polygon points="67,989.50 80,989.50 73.5,994.00" fill="#80f0ff" opacity="0.8"/></g>
<text x="87" y="1006.30" font-family="'Liberation Sans', sans-serif" font-size="20" fill="#000">shark</text>
<text x="215.30" y="1006.60" text-anchor="middle" font-family="'Liberation Sans', sans-serif" font-size="20" fill="#000">1.54</text>
<text x="331.90" y="1006.60" text-anchor="middle" font-family="'Liberation Sans', sans-serif" font-size="20" fill="#000">36.84</text>
<text x="448.50" y="1006.60" text-anchor="middle" font-family="'Liberation Sans', sans-serif" font-size="20" fill="#000">16.39</text>
<text x="565.10" y="1006.60" text-anchor="middle" font-family="'Liberation Sans', sans-serif" font-size="20" fill="#000">19.28</text>
<text x="681.70" y="1006.60" text-anchor="middle" font-family="'Liberation Sans', sans-serif" font-size="20" fill="#000">17.35</text>
<text x="798.30" y="1006.60" text-anchor="middle" font-family="'Liberation Sans', sans-serif" font-size="20" fill="#000">28.07</text>
<text x="914.90" y="1006.60" text-anchor="middle" font-family="'Liberation Sans', sans-serif" font-size="20" fill="#000">567.81</text>
<text x="1031.50" y="1006.60" text-anchor="middle" font-family="'Liberation Sans', sans-serif" font-size="20" fill="#000">44.21</text>
<text x="1148.10" y="1006.60" text-anchor="middle" font-family="'Liberation Sans', sans-serif" font-size="20" fill="#000">47.84</text>
<g transform="translate(361,0) scale(0.93,1) translate(-361,0)"><text x="361" y="154.2" font-family="'Liberation Sans', sans-serif" font-size="31" font-weight="bold" letter-spacing="-0.63" fill="#000" style="white-space:pre">Memory'size:'20GB''''</text></g>
<g transform="translate(639.5,0) scale(0.93,1) translate(-639.5,0)"><text x="639.5" y="154.2" font-family="'Liberation Sans', sans-serif" font-size="31" font-weight="bold" letter-spacing="-0.64" fill="#000" style="white-space:pre">No.'of'Nodes:'100Nodes''''</text></g>
<g transform="translate(980.3,0) scale(0.93,1) translate(-980.3,0)"><text x="980.3" y="154.2" font-family="'Liberation Sans', sans-serif" font-size="31" font-weight="bold" letter-spacing="-1.14" fill="#000" style="white-space:pre">Data'size:'1TB'</text></g>
<text transform="translate(61,675) rotate(-90) scale(0.9,1)" x="0" y="0" font-family="'Liberation Sans', sans-serif" font-size="35.5" stroke="#000" stroke-width="0.9" fill="#000">Response'Time(s)</text>
</svg></body></html>
